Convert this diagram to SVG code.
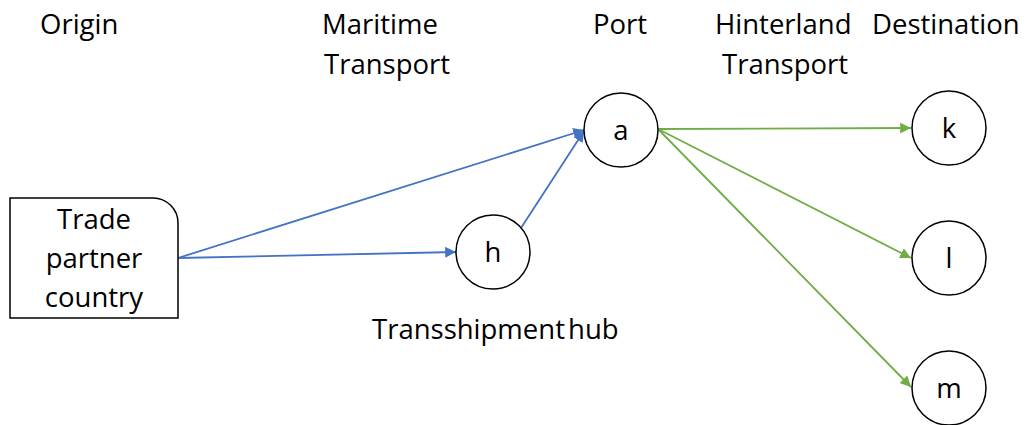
<svg xmlns="http://www.w3.org/2000/svg" width="1030" height="425" viewBox="0 0 1030 425">
  <style>
    .lbl { font-family: "Open Sans", "Liberation Sans", sans-serif; font-size: 27.5px; fill: #000; }
    .mid { text-anchor: middle; }
    .node { fill: #fff; stroke: #000; stroke-width: 1.5; }
    .blue { stroke: #4472C4; stroke-width: 1.8; fill: none; marker-end: url(#arrowBlue); }
    .green { stroke: #70AD47; stroke-width: 1.8; fill: none; marker-end: url(#arrowGreen); }
  </style>
  <defs>
    <marker id="arrowBlue" viewBox="0 0 10 10" refX="10" refY="5" markerWidth="6" markerHeight="6" markerUnits="strokeWidth" orient="auto">
      <path d="M0,0 L10,5 L0,10 z" fill="#4472C4"/>
    </marker>
    <marker id="arrowGreen" viewBox="0 0 10 10" refX="10" refY="5" markerWidth="6" markerHeight="6" markerUnits="strokeWidth" orient="auto">
      <path d="M0,0 L10,5 L0,10 z" fill="#70AD47"/>
    </marker>
  </defs>
  <rect width="1030" height="425" fill="#fff"/>

  <!-- column headings -->
  <g id="headings">
    <text class="lbl" x="40" y="34">Origin</text>
    <text class="lbl" x="322" y="34">Maritime</text>
    <text class="lbl" x="324" y="74">Transport</text>
    <text class="lbl" x="593" y="34">Port</text>
    <text class="lbl" x="715" y="34">Hinterland</text>
    <text class="lbl" x="722" y="74">Transport</text>
    <text class="lbl" x="872" y="34">Destination</text>
    <text class="lbl" x="372" y="339" word-spacing="-4">Transshipment hub</text>
  </g>

  <!-- connectors -->
  <g id="connectors">
    <line class="blue" x1="178" y1="258" x2="584" y2="130"/>
    <line class="blue" x1="178" y1="258" x2="456" y2="252"/>
    <line class="blue" x1="521" y1="228" x2="584" y2="131"/>
    <line class="green" x1="658" y1="129" x2="911" y2="128"/>
    <line class="green" x1="658" y1="129" x2="911" y2="258"/>
    <line class="green" x1="658" y1="129" x2="911" y2="387"/>
  </g>

  <g id="origin">
    <path class="node" d="M10,198 H153 A25,25 0 0 1 178,223 V318 H10 Z"/>
    <text class="lbl mid" x="94" y="229">Trade</text>
    <text class="lbl mid" x="94" y="268">partner</text>
    <text class="lbl mid" x="94" y="307">country</text>
  </g>
  <g id="node-a">
    <circle class="node" cx="621" cy="130" r="37"/>
    <text class="lbl mid" x="621" y="140">a</text>
  </g>
  <g id="node-h">
    <circle class="node" cx="493" cy="252" r="37"/>
    <text class="lbl mid" x="493" y="262">h</text>
  </g>
  <g id="node-k">
    <circle class="node" cx="949" cy="128" r="37"/>
    <text class="lbl mid" x="949" y="138">k</text>
  </g>
  <g id="node-l">
    <circle class="node" cx="949" cy="258" r="37"/>
    <text class="lbl mid" x="949" y="268">l</text>
  </g>
  <g id="node-m">
    <circle class="node" cx="949" cy="388" r="37"/>
    <text class="lbl mid" x="949" y="398">m</text>
  </g>
</svg>
